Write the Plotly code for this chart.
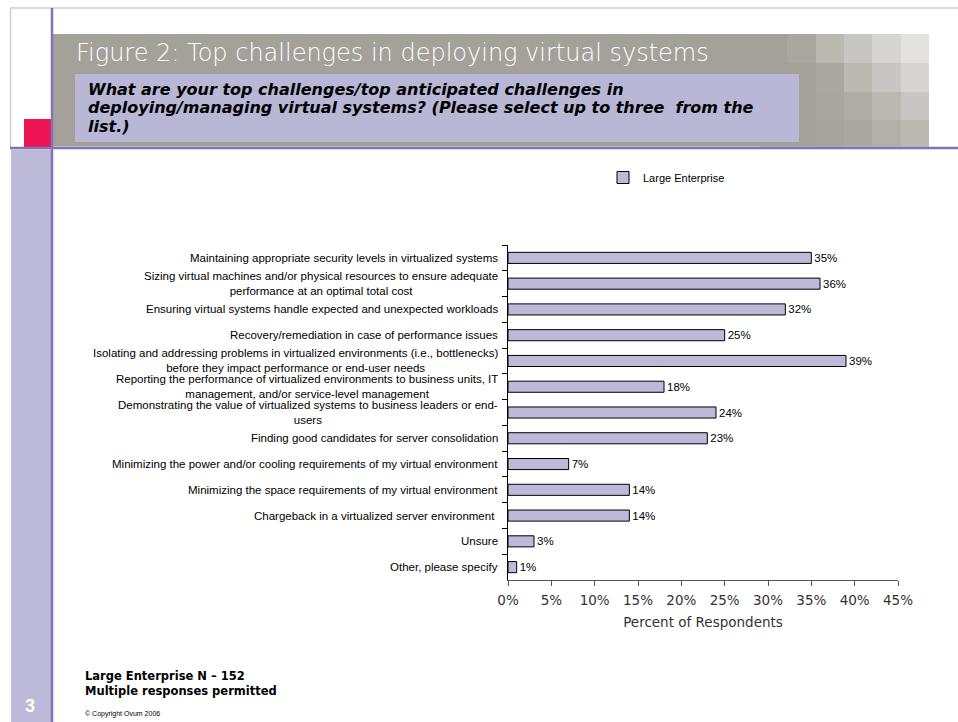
import plotly.graph_objects as go

# ---- survey data -------------------------------------------------------
categories = [
    "Maintaining appropriate security levels in virtualized systems",
    "Sizing virtual machines and/or physical resources to ensure adequate<br>performance at an optimal total cost",
    "Ensuring virtual systems handle expected and unexpected workloads",
    "Recovery/remediation in case of performance issues",
    "Isolating and addressing problems in virtualized environments (i.e., bottlenecks)<br>before they impact performance or end-user needs",
    "Reporting the performance of virtualized environments to business units, IT<br>management, and/or service-level management",
    "Demonstrating the value of virtualized systems to business leaders or end-<br>users",
    "Finding good candidates for server consolidation",
    "Minimizing the power and/or cooling requirements of my virtual environment",
    "Minimizing the space requirements of my virtual environment",
    "Chargeback in a virtualized server environment\u00a0",
    "Unsure",
    "Other, please specify",
]
large_enterprise = [35, 36, 32, 25, 39, 18, 24, 23, 7, 14, 14, 3, 1]
series_name = "Large Enterprise"
x_ticks = [0, 5, 10, 15, 20, 25, 30, 35, 40, 45]
x_tick_labels = [f"{t}%" for t in x_ticks]

figure_title = "Figure 2: Top challenges in deploying virtual systems"
question_lines = [
    "What are your top challenges/top anticipated challenges in",
    "deploying/managing virtual systems? (Please select up to three  from the",
    "list.)",
]
footnote = "Large Enterprise N \u2013 152<br>Multiple responses permitted"
copyright_text = "\u00a9 Copyright Ovum 2006"
page_number = "3"

# ---- page geometry (pixels) --------------------------------------------
W, H = 958, 722
PL, PR, PT, PB = 508, 898, 245, 580


def fx(x):
    return (x - PL) / (PR - PL)


def fy(y):
    return (PB - y) / (PB - PT)


def rect(x0, y0, x1, y1, color):
    return dict(type="rect", xref="paper", yref="paper",
                x0=fx(x0), x1=fx(x1), y0=fy(y1), y1=fy(y0),
                fillcolor=color, line=dict(width=0), layer="below")


def line(x0, y0, x1, y1, color, width):
    return dict(type="line", xref="paper", yref="paper",
                x0=fx(x0), x1=fx(x1), y0=fy(y0), y1=fy(y1),
                line=dict(color=color, width=width), layer="above")


BAR = "#bcb9d9"
PURPLE = "#7d75b5"
HEADER_GRAY = "#a4a19a"
LABEL_FONT = "Liberation Sans, Arial, sans-serif"
VERDANA_LIKE = "DejaVu Sans, Verdana, sans-serif"

shapes = [
    rect(53, 34, 929, 146.5, HEADER_GRAY),
]
# fading tile pattern at the right end of the header band
tile_cols = [760, 787, 816, 844, 872, 901, 929]
tile_rows = [34, 63, 92, 120, 146.5]
tile_colors = [
    [HEADER_GRAY, "#aaa7a0", "#bbb8b2", "#c8c6c2", "#d6d5d1", "#e3e2e0"],
    [HEADER_GRAY, HEADER_GRAY, "#aaa7a0", "#bcb9b3", "#c8c6c2", "#d6d5d1"],
    [HEADER_GRAY, HEADER_GRAY, "#a9a6a0", "#b0ada7", "#bbb8b2", "#c8c6c2"],
    [HEADER_GRAY, HEADER_GRAY, "#a6a39c", "#aaa7a0", "#b3b0aa", "#bcb9b3"],
]
for r in range(4):
    for c in range(6):
        shapes.append(rect(tile_cols[c], tile_rows[r], tile_cols[c + 1],
                           tile_rows[r + 1], tile_colors[r][c]))
shapes += [
    rect(75, 74, 799, 142, "#b9b7d6"),
    rect(11, 149.5, 51, H, BAR),
    rect(24, 119, 51, 147, "#ee1556"),
    line(10, 8, W, 8, "#d3ccc8", 1.5),
    line(10.5, 8, 10.5, 148, "#d3ccc8", 1.5),
    line(10, 148, W, 148, PURPLE, 2.5),
    line(52, 8, 52, H, PURPLE, 2.5),
]

fig = go.Figure()
fig.add_trace(go.Bar(
    y=categories,
    x=large_enterprise,
    orientation="h",
    name=series_name,
    marker=dict(color=BAR, line=dict(color="#000000", width=1)),
    text=[f"{v}%" for v in large_enterprise],
    textposition="outside",
    constraintext="none",
    cliponaxis=False,
    textfont=dict(family=LABEL_FONT, size=11.5, color="#000000"),
    hoverinfo="skip",
))

annotations = []
# category labels: right-aligned block, wrapped lines centred
for i, cat in enumerate(categories):
    annotations.append(dict(
        xref="paper", yref="y", x=0, y=i, xshift=-8,
        xanchor="right", yanchor="middle", align="center",
        text=cat, showarrow=False,
        font=dict(family=LABEL_FONT, size=11.5, color="#000000"),
    ))

annotations.append(dict(
    xref="paper", yref="paper", x=fx(74), y=fy(53),
    xanchor="left", yanchor="middle", text=figure_title, showarrow=False,
    font=dict(family="DejaVu Sans, sans-serif", size=24, color="#ffffff", weight=200),
))
for txt, yc in zip(question_lines, [89, 107.5, 126]):
    annotations.append(dict(
        xref="paper", yref="paper", x=fx(86), y=fy(yc),
        xanchor="left", yanchor="middle", text=f"<b><i>{txt}</i></b>",
        showarrow=False,
        font=dict(family=VERDANA_LIKE, size=16, color="#000000"),
    ))
annotations += [
    dict(xref="paper", yref="paper", x=fx(83), y=fy(683.5),
         xanchor="left", yanchor="middle", align="left",
         text=f"<b>{footnote}</b>", showarrow=False,
         font=dict(family=VERDANA_LIKE, size=11.5, color="#000000")),
    dict(xref="paper", yref="paper", x=fx(83), y=fy(714),
         xanchor="left", yanchor="middle", text=copyright_text, showarrow=False,
         font=dict(family=LABEL_FONT, size=7, color="#000000")),
    dict(xref="paper", yref="paper", x=fx(30.5), y=fy(706),
         xanchor="center", yanchor="middle", text=f"<b>{page_number}</b>", showarrow=False,
         font=dict(family=LABEL_FONT, size=18, color="#ffffff")),
]

fig.update_layout(
    width=W, height=H, autosize=False,
    margin=dict(l=PL, r=W - PR, t=PT, b=H - PB, pad=0),
    paper_bgcolor="#ffffff", plot_bgcolor="#ffffff",
    bargap=0.57,
    shapes=shapes,
    annotations=annotations,
    showlegend=True,
    legend=dict(x=fx(603), y=fy(163), xanchor="left", yanchor="top",
                bgcolor="rgba(0,0,0,0)",
                font=dict(family=LABEL_FONT, size=11, color="#000000")),
    xaxis=dict(
        range=[0, 45], tickvals=x_ticks, ticktext=x_tick_labels,
        showgrid=False, zeroline=False,
        showline=True, linecolor="#555555", linewidth=1,
        ticks="outside", ticklen=5, tickcolor="#555555",
        ticklabelstandoff=3,
        tickfont=dict(family=VERDANA_LIKE, size=13.5, color="#333333"),
        title=dict(text="Percent of Respondents", standoff=10,
                   font=dict(family=VERDANA_LIKE, size=13.5, color="#333333")),
        fixedrange=True,
    ),
    yaxis=dict(
        autorange="reversed", showticklabels=False, showgrid=False, zeroline=False,
        showline=True, linecolor="#000000", linewidth=1,
        ticks="outside", tickson="boundaries", ticklen=5, tickcolor="#000000",
        fixedrange=True,
    ),
)

fig.write_html("out.html")
